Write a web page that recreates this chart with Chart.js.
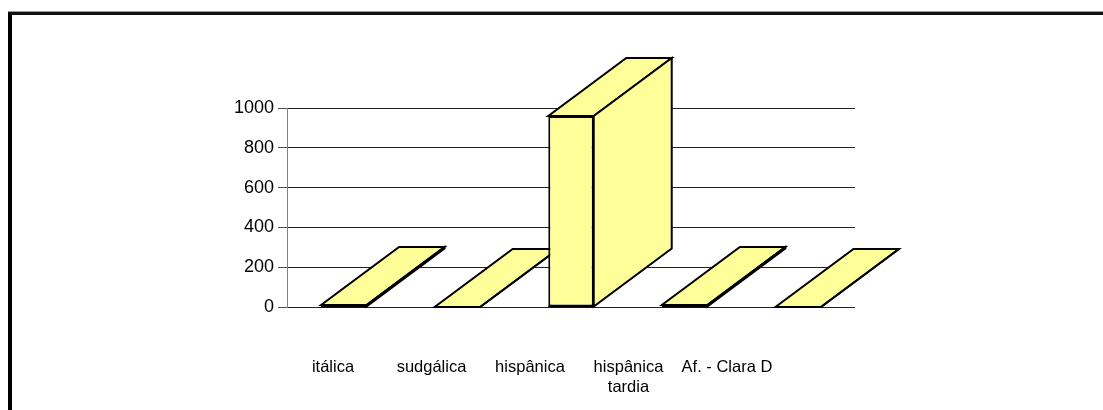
<!DOCTYPE html>
<html>
<head>
<meta charset="utf-8">
<script src="https://cdn.jsdelivr.net/npm/chart.js@4.4.1/dist/chart.umd.min.js"></script>
<style>
  html, body { margin: 0; padding: 0; background: #fff; overflow: hidden; }
  #frame {
    position: absolute; left: 8px; top: 12px;
    width: 1200px; height: 500px;
    border-left: 4px solid #000; border-top: 3px solid #111;
    box-shadow: 0 -1px 0 #999;
  }
  #wrap { position: absolute; left: 0; top: 0; width: 1103px; height: 410px; }
</style>
</head>
<body>
<div id="frame"></div>
<div id="wrap"><canvas id="canvas" width="1103" height="410"></canvas></div>
<script>
// Datos del gráfico
const categorias = ["itálica", "sudgálica", "hispânica", "hispânica tardia", "Af. - Clara D"];
const etiquetas = ["itálica", "sudgálica", "hispânica", ["hispânica", "tardia"], "Af. - Clara D"];
const valores = [10, 0, 960, 10, 0];
const ticksY = [0, 200, 400, 600, 800, 1000];

const AMARILLO = "#FFFF99";
const PROF_X = 78;   // desplazamiento de la cara trasera (3D)
const PROF_Y = -58;

// Plugin que dibuja las caras superior y lateral de cada barra
const barras3D = {
  id: "barras3D",
  beforeDatasetsDraw(chart) {
    const ctx = chart.ctx;
    const meta = chart.getDatasetMeta(0);
    ctx.save();
    ctx.fillStyle = AMARILLO;
    ctx.strokeStyle = "#000";
    ctx.lineWidth = 2;
    ctx.lineJoin = "miter";
    meta.data.forEach((bar) => {
      const x1 = bar.x - bar.width / 2;
      const x2 = bar.x + bar.width / 2;
      const y = bar.y;
      const base = bar.base;
      // cara superior
      ctx.beginPath();
      ctx.moveTo(x1, y);
      ctx.lineTo(x2, y);
      ctx.lineTo(x2 + PROF_X, y + PROF_Y);
      ctx.lineTo(x1 + PROF_X, y + PROF_Y);
      ctx.closePath();
      ctx.fill();
      ctx.stroke();
      // cara lateral
      ctx.beginPath();
      ctx.moveTo(x2, y);
      ctx.lineTo(x2 + PROF_X, y + PROF_Y);
      ctx.lineTo(x2 + PROF_X, base + PROF_Y);
      ctx.lineTo(x2, base);
      ctx.closePath();
      ctx.fill();
      ctx.stroke();
    });
    ctx.restore();
  },
  afterDatasetsDraw(chart) {
    const ctx = chart.ctx;
    const meta = chart.getDatasetMeta(0);
    ctx.save();
    ctx.strokeStyle = "#000";
    ctx.lineWidth = 2;
    meta.data.forEach((bar) => {
      ctx.beginPath();
      ctx.moveTo(bar.x - bar.width / 2, bar.base);
      ctx.lineTo(bar.x + bar.width / 2, bar.base);
      ctx.stroke();
    });
    ctx.restore();
  },
};

const fuente = { family: "'Liberation Sans', Arial, sans-serif", size: 16.5 };

new Chart(document.getElementById("canvas"), {
  type: "bar",
  data: {
    labels: categorias,
    datasets: [
      {
        data: valores,
        backgroundColor: AMARILLO,
        borderColor: "#000",
        borderWidth: 2,
        borderSkipped: false,
        barPercentage: 0.4,
        categoryPercentage: 1,
      },
    ],
  },
  options: {
    responsive: false,
    animation: false,
    layout: { padding: { left: 227, right: 248, top: 108, bottom: 0 } },
    plugins: { legend: { display: false }, tooltip: { enabled: false } },
    scales: {
      x: { display: false },
      // eje auxiliar solo para las etiquetas (proyección del suelo 3D)
      x2: {
        type: "linear",
        position: "bottom",
        offset: false,
        bounds: "data",
        min: -0.467,
        max: 5.3,
        grid: { display: false, drawTicks: false, offset: false },
        border: { display: false },
        afterBuildTicks: (scale) => {
          scale.ticks = categorias.map((c, i) => ({ value: i }));
        },
        afterFit: (scale) => {
          scale.height = 103;
        },
        ticks: {
          autoSkip: false,
          maxRotation: 0,
          padding: 50,
          color: "#000",
          font: { ...fuente, lineHeight: 1.25 },
          callback: (v) => etiquetas[v],
        },
      },
      y: {
        min: 0,
        max: 1000,
        afterBuildTicks: (scale) => {
          scale.ticks = ticksY.map((v) => ({ value: v }));
        },
        afterFit: (scale) => {
          scale.width = 60;
        },
        grid: { color: "#222", lineWidth: 1, tickLength: 9, tickColor: "#555" },
        border: { color: "#808080", width: 1 },
        ticks: {
          padding: 4,
          color: "#000",
          font: { ...fuente, size: 18 },
          callback: (v) => String(v),
        },
      },
    },
  },
  plugins: [barras3D],
});
</script>
</body>
</html>
